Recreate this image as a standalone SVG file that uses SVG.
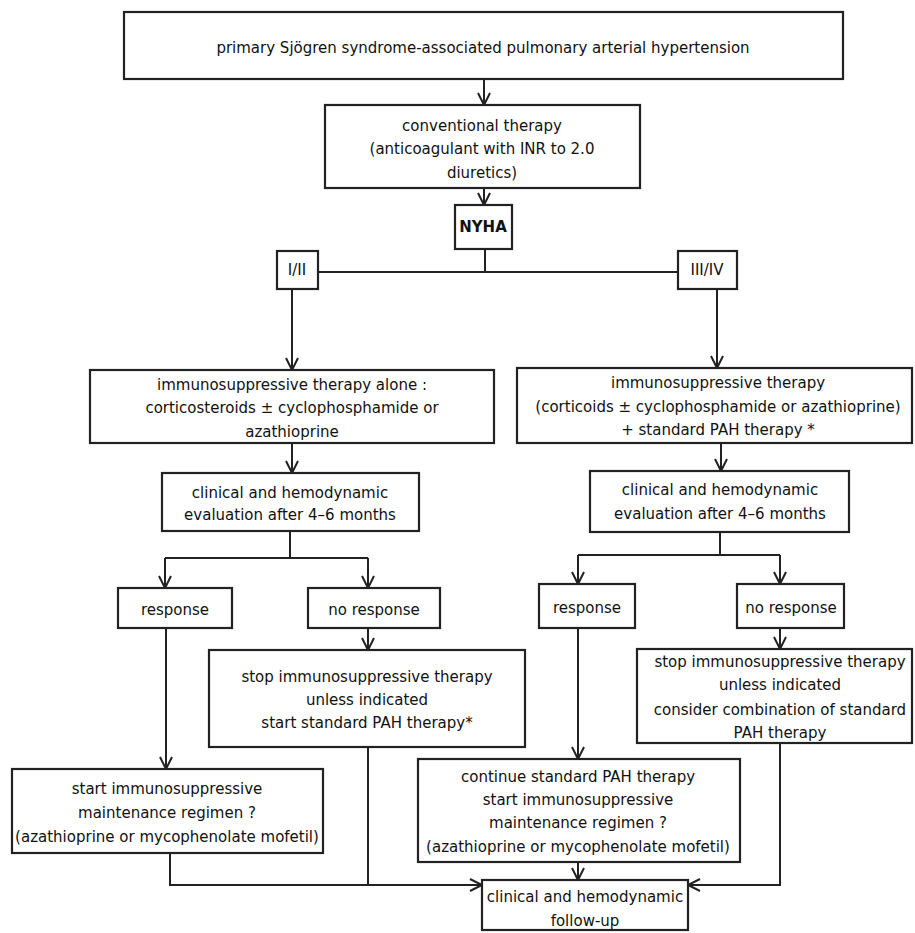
<svg xmlns="http://www.w3.org/2000/svg" width="915" height="933" viewBox="0 0 915 933">
<defs>
<style>
.b{fill:#fff;stroke:#222;stroke-width:2.2}
.t{font-family:"DejaVu Sans",sans-serif;font-size:15px;fill:#111;text-anchor:middle}
.c{fill:none;stroke:#222;stroke-width:2}
</style>
</defs>
<rect width="915" height="933" fill="#fff"/>
<g id="connectors">
<path class="c" d="M484,79 V105"/>
<path class="c" d="M484,188 V205"/>
<path class="c" d="M485,249 V272 M318,272 H678"/>
<path class="c" d="M292,289 V370"/>
<path class="c" d="M717,289 V368"/>
<path class="c" d="M292,443 V473"/>
<path class="c" d="M721,443 V471"/>
<path class="c" d="M290,531 V558 M165,558 H368"/>
<path class="c" d="M165,558 V588"/>
<path class="c" d="M368,558 V588"/>
<path class="c" d="M720,532 V555 M578,555 H780"/>
<path class="c" d="M578,555 V584"/>
<path class="c" d="M780,555 V584"/>
<path class="c" d="M368,628 V650"/>
<path class="c" d="M166,628 V769"/>
<path class="c" d="M578,628 V759"/>
<path class="c" d="M780,628 V649"/>
<path class="c" d="M170,853 V885 H482"/>
<path class="c" d="M368,747 V885"/>
<path class="c" d="M780,743 V885 H688"/>
<path class="c" d="M578,862 V880"/>
<g fill="none" stroke="#222" stroke-width="2">
<path d="M478,93 L484,105 L490,93"/>
<path d="M478,193 L484,205 L490,193"/>
<path d="M286,358 L292,370 L298,358"/>
<path d="M711,356 L717,368 L723,356"/>
<path d="M286,461 L292,473 L298,461"/>
<path d="M715,459 L721,471 L727,459"/>
<path d="M159,576 L165,588 L171,576"/>
<path d="M362,576 L368,588 L374,576"/>
<path d="M572,572 L578,584 L584,572"/>
<path d="M774,572 L780,584 L786,572"/>
<path d="M362,638 L368,650 L374,638"/>
<path d="M160,757 L166,769 L172,757"/>
<path d="M572,747 L578,759 L584,747"/>
<path d="M774,637 L780,649 L786,637"/>
<path d="M470,879 L482,885 L470,891"/>
<path d="M700,879 L688,885 L700,891"/>
<path d="M572,868 L578,880 L584,868"/>
</g>
</g>
<g id="n-top"><rect class="b" x="124" y="12" width="719" height="67"/><text class="t" x="483" y="53">primary Sjögren syndrome-associated pulmonary arterial hypertension</text></g>
<g id="n-conv"><rect class="b" x="325" y="105" width="315" height="83"/><text class="t" x="482" y="131">conventional therapy</text><text class="t" x="482" y="154">(anticoagulant with INR to 2.0</text><text class="t" x="482" y="178">diuretics)</text></g>
<g id="n-nyha"><rect class="b" x="455" y="205" width="57" height="44"/><text class="t" x="483" y="232" font-weight="bold" font-size="14">NYHA</text></g>
<g id="n-i"><rect class="b" x="277" y="251" width="41" height="38"/><text class="t" x="297" y="275" font-size="13">I/II</text></g>
<g id="n-iii"><rect class="b" x="678" y="251" width="59" height="38"/><text class="t" x="707" y="275" font-size="13">III/IV</text></g>
<g id="n-limm"><rect class="b" x="90" y="370" width="404" height="73"/><text class="t" x="292" y="390">immunosuppressive therapy alone :</text><text class="t" x="292" y="413">corticosteroids ± cyclophosphamide or</text><text class="t" x="292" y="437">azathioprine</text></g>
<g id="n-rimm"><rect class="b" x="517" y="368" width="395" height="75"/><text class="t" x="718" y="388">immunosuppressive therapy</text><text class="t" x="718" y="412">(corticoids ± cyclophosphamide or azathioprine)</text><text class="t" x="718" y="435">+ standard PAH therapy *</text></g>
<g id="n-lclin"><rect class="b" x="162" y="473" width="257" height="58"/><text class="t" x="290" y="498">clinical and hemodynamic</text><text class="t" x="290" y="520">evaluation after 4–6 months</text></g>
<g id="n-rclin"><rect class="b" x="590" y="471" width="259" height="61"/><text class="t" x="720" y="495">clinical and hemodynamic</text><text class="t" x="720" y="519">evaluation after 4–6 months</text></g>
<g id="n-lresp"><rect class="b" x="118" y="588" width="114" height="40"/><text class="t" x="175" y="615">response</text></g>
<g id="n-lnoresp"><rect class="b" x="308" y="588" width="132" height="40"/><text class="t" x="374" y="615">no response</text></g>
<g id="n-lstop"><rect class="b" x="209" y="650" width="316" height="97"/><text class="t" x="367" y="682">stop immunosuppressive therapy</text><text class="t" x="367" y="705">unless indicated</text><text class="t" x="367" y="728">start standard PAH therapy*</text></g>
<g id="n-rresp"><rect class="b" x="539" y="584" width="96" height="44"/><text class="t" x="587" y="613">response</text></g>
<g id="n-rnoresp"><rect class="b" x="737" y="584" width="107" height="44"/><text class="t" x="791" y="613">no response</text></g>
<g id="n-rstop"><rect class="b" x="637" y="649" width="275" height="94"/><text class="t" x="780" y="667">stop immunosuppressive therapy</text><text class="t" x="780" y="690">unless indicated</text><text class="t" x="780" y="715">consider combination of standard</text><text class="t" x="780" y="738">PAH therapy</text></g>
<g id="n-start"><rect class="b" x="12" y="769" width="311" height="84"/><text class="t" x="167" y="794">start immunosuppressive</text><text class="t" x="167" y="818">maintenance regimen ?</text><text class="t" x="167" y="842">(azathioprine or mycophenolate mofetil)</text></g>
<g id="n-cont"><rect class="b" x="418" y="759" width="322" height="103"/><text class="t" x="578" y="782">continue standard PAH therapy</text><text class="t" x="578" y="805">start immunosuppressive</text><text class="t" x="578" y="828">maintenance regimen ?</text><text class="t" x="578" y="852">(azathioprine or mycophenolate mofetil)</text></g>
<g id="n-follow"><rect class="b" x="482" y="880" width="206" height="50"/><text class="t" x="585" y="902">clinical and hemodynamic</text><text class="t" x="585" y="926">follow-up</text></g>
</svg>
